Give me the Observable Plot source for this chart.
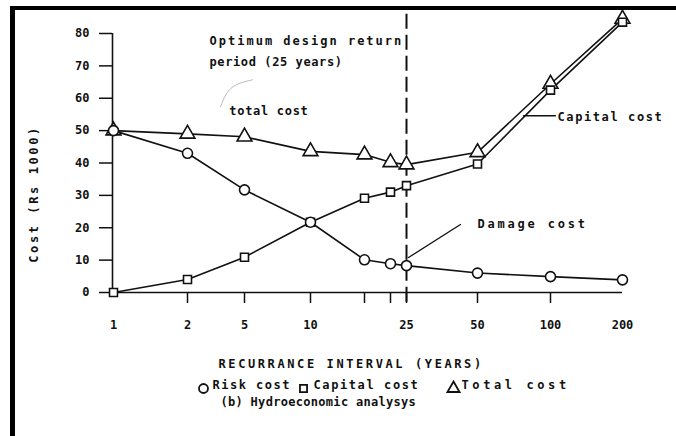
<!DOCTYPE html>
<html>
<head>
<meta charset="utf-8">
<script src="https://cdn.jsdelivr.net/npm/d3@7"></script>
<script src="https://cdn.jsdelivr.net/npm/@observablehq/plot@0.6"></script>
<style>
  html, body { margin: 0; padding: 0; background: #fff; overflow: hidden; width: 676px; height: 436px; }
  #wrap { position: relative; width: 676px; height: 436px; overflow: hidden; }
  #edge { position: absolute; left: 666px; top: 10px; width: 10px; height: 426px; background: #fff; z-index: 10; }
  svg { display: block; overflow: hidden; }
</style>
</head>
<body>
<div id="wrap"><div id="edge"></div></div>
<script>
// ---- data ----
const interval = [1, 2, 5, 10, 15, 20, 25, 50, 100, 200];
const riskCost = [50, 43, 31.7, 21.7, 10.1, 8.9, 8.3, 6.0, 4.9, 3.9];
const capitalCost = [0, 4.0, 10.9, 21.7, 29.1, 31.0, 33.0, 39.7, 62.5, 83.5];
const totalCost = [50, 49.0, 48.1, 43.6, 42.6, 40.2, 39.5, 43.3, 64.4, 84.5];

const xTickLabels = [1, 2, 5, 10, 25, 50, 100, 200];
const xTickMarks = [2, 5, 10, 15, 20, 25, 50, 100];
const yTicks = [0, 10, 20, 30, 40, 50, 60, 70, 80];
const optimum = 25;

// hand-drawn, unevenly spaced axis: pixel position of each interval
const xPositions = [113, 187, 244, 310, 364, 390, 406, 477, 550, 622];

const rows = (ys) => interval.map((x, i) => ({x, y: ys[i]}));
const risk = rows(riskCost), capital = rows(capitalCost), total = rows(totalCost);

const labels = [
  {x: 3.16, y: 77.5, t: "Optimum design return"},
  {x: 3.16, y: 71.3, t: "period (25 years)"},
  {x: 4.2, y: 55.9, t: "total cost"},
  {x: 109.7, y: 54.3, t: "Capital cost"},
  {x: 50, y: 21, t: "Damage cost"}
];
const capLeader = [{x: 81.5, y: 54.6}, {x: 106.9, y: 54.6}];
const dmgLeader = [{x: 25.7, y: 10.8}, {x: 44, y: 21}];
const totLeader = [{x: 3.74, y: 57.4}, {x: 4.05, y: 61.4}, {x: 4.58, y: 64.2}, {x: 5.6, y: 65.7}];

// legend entries: symbol, label, offsets from the frame's bottom-left corner
const legendItems = [
  {symbol: "circle", label: "Risk cost", dxs: 91, dxt: 100},
  {symbol: "square", label: "Capital cost", dxs: 191, dxt: 201},
  {symbol: "triangle", label: "Total cost", dxs: 341, dxt: 349}
];

const font = "DejaVu Sans Mono";
const ink = "#111";

const legendMarks = legendItems.flatMap((d) => [
  Plot.dot([d], {frameAnchor: "bottom-left", dx: d.dxs, dy: 96, symbol: d.symbol, r: d.symbol === "square" ? 4 : 4.5, fill: "white", stroke: ink, strokeWidth: 1.8}),
  Plot.text([d.label], {frameAnchor: "bottom-left", dx: d.dxt, dy: 96, textAnchor: "start", fill: ink, fontSize: 12, fontWeight: "bold"})
]);

const chart = Plot.plot({
  width: 676,
  height: 436,
  marginTop: 33,
  marginBottom: 144,
  marginLeft: 112,
  marginRight: 54,
  style: {fontFamily: font, fontSize: "12px", fontWeight: "bold", color: ink, background: "white"},
  x: {type: "linear", domain: interval, range: xPositions},
  y: {domain: [0, 80]},
  marks: [
    Plot.axisY(yTicks, {anchor: "left", tickSize: 13, tickPadding: 10, label: null, strokeWidth: 1.5}),
    Plot.ruleX([1], {y1: 0, y2: 80, dx: -1, stroke: ink, strokeWidth: 1.6}),
    Plot.axisX(xTickMarks, {anchor: "bottom", tickSize: 11, tickFormat: () => "", label: null, strokeWidth: 1.5}),
    Plot.axisX(xTickLabels, {anchor: "bottom", tickSize: 0, tickPadding: 28, label: null}),
    Plot.ruleY([0], {x1: 1, x2: 200, stroke: ink, strokeWidth: 1.6}),
    Plot.ruleX([optimum], {y1: -3, y2: 88, stroke: ink, strokeWidth: 2, strokeDasharray: "15,6"}),
    Plot.line(totLeader, {x: "x", y: "y", curve: "natural", stroke: "#bbb", strokeWidth: 1}),
    Plot.line(capLeader, {x: "x", y: "y", stroke: ink, strokeWidth: 1.3}),
    Plot.line(dmgLeader, {x: "x", y: "y", stroke: ink, strokeWidth: 1.3}),
    Plot.line(total, {x: "x", y: "y", stroke: ink, strokeWidth: 1.6}),
    Plot.line(capital, {x: "x", y: "y", stroke: ink, strokeWidth: 1.6}),
    Plot.line(risk, {x: "x", y: "y", stroke: ink, strokeWidth: 1.6}),
    Plot.dot(total, {x: "x", y: "y", symbol: "triangle", r: 5.5, fill: "white", stroke: ink, strokeWidth: 1.6}),
    Plot.dot(capital, {x: "x", y: "y", symbol: "square", r: 4.5, fill: "white", stroke: ink, strokeWidth: 1.6}),
    Plot.dot(risk, {x: "x", y: "y", symbol: "circle", r: 5, fill: "white", stroke: ink, strokeWidth: 1.6}),
    Plot.text(labels, {x: "x", y: "y", text: "t", textAnchor: "start", fill: ink, fontSize: 12, fontWeight: "bold"}),
    Plot.text(["Cost (Rs 1000)"], {frameAnchor: "left", textAnchor: "middle", dx: -78, dy: 31, rotate: -90, fill: ink, fontSize: 12, fontWeight: "bold"}),
    Plot.text(["RECURRANCE INTERVAL (YEARS)"], {frameAnchor: "bottom-left", dx: 106, dy: 75, textAnchor: "start", fill: ink, fontSize: 12, fontWeight: "bold"}),
    ...legendMarks,
    Plot.text(["(b) Hydroeconomic analysys"], {frameAnchor: "bottom-left", dx: 108, dy: 113, textAnchor: "start", fill: ink, fontSize: 12, fontWeight: "bold"})
  ]
});

// letter spacing to imitate the wide plotter lettering
const spacing = {
  "Optimum design return": 2.0,
  "period (25 years)": 0.6,
  "total cost": 0.7,
  "Capital cost": 1.6,
  "Damage cost": 2.8,
  "Cost (Rs 1000)": 2.6,
  "RECURRANCE INTERVAL (YEARS)": 2.6,
  "Risk cost": 1.5,
  "Total cost": 3.6,
  "(b) Hydroeconomic analysys": 0.3
};
d3.select(chart).selectAll("text").each(function () {
  const s = spacing[this.textContent];
  if (s !== undefined) this.setAttribute("letter-spacing", s);
});
// the legend's "Capital cost" is wider than the plot label of the same text
d3.select(chart).selectAll("text").filter(function () {
  return this.textContent === "Capital cost" && +this.getAttribute("y") > 300;
}).attr("letter-spacing", 2.5);

// the scanned figure's border (top and left edges only)
const border = d3.select(chart).append("g").attr("fill", "#000");
border.append("rect").attr("x", 10).attr("y", 6).attr("width", 666).attr("height", 4);
border.append("rect").attr("x", 10).attr("y", 6).attr("width", 5).attr("height", 430);

document.getElementById("wrap").prepend(chart);
</script>
</body>
</html>
